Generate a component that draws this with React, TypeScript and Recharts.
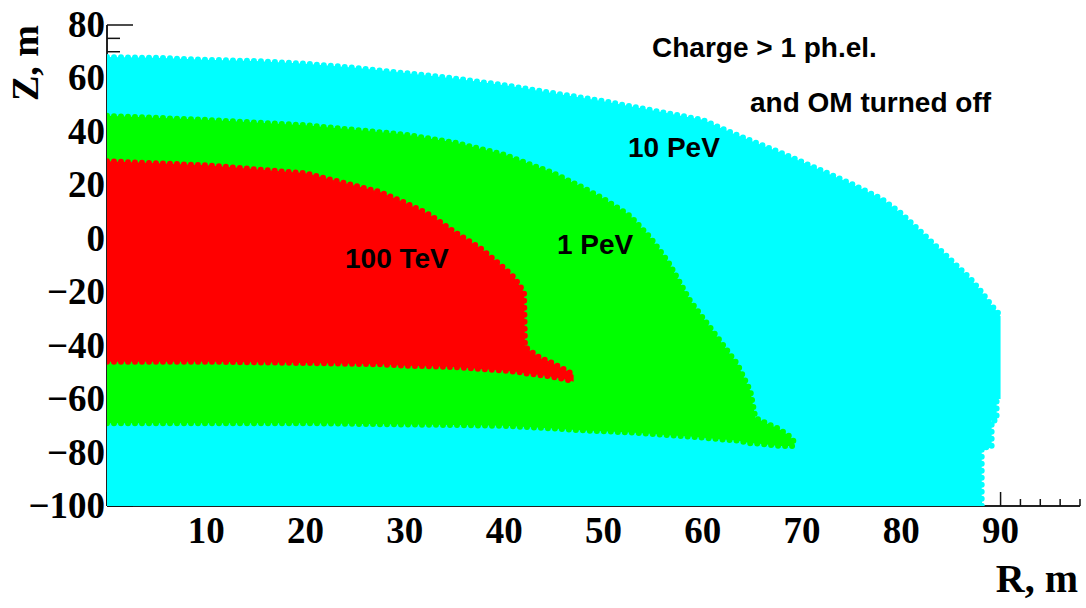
import { ComposedChart, Area, XAxis, YAxis } from 'recharts';

// 10 PeV region (cyan)
const cyanR = [0, 5, 10, 15, 20, 25, 30, 35, 40, 45, 50, 55, 60, 63, 68, 72, 75, 78, 80, 82, 84, 86, 87.1, 88.1, 88.1, 89.1, 89.1, 89.6, 89.6, 90];
const cyanTop = [68, 67.7, 67, 66.5, 65.5, 64, 62, 60, 57.5, 54.5, 51.5, 48, 44.5, 39.5, 32, 25.5, 20.5, 15, 9.5, 2.5, -4.5, -11.5, -15.5, -20, -20, -25, -25, -27, -27, -29];
const cyanBottom = [-100, -100, -100, -100, -100, -100, -100, -100, -100, -100, -100, -100, -100, -100, -100, -100, -100, -100, -100, -100, -100, -100, -100, -100, -78, -78, -68, -68, -60, -60];

// 1 PeV region (green)
const greenR = [0, 10, 20, 30, 35, 40, 45, 48, 50, 52.7, 54.7, 56.5, 58.7, 61.7, 63.5, 64.8, 65.3, 66.4, 67.6, 68.8, 69.2];
const greenTop = [46, 44.5, 42.5, 39, 36, 31.5, 24.5, 19, 15, 8.5, 0.5, -8.5, -23, -38, -47, -57, -67, -69, -71, -74, -76];
const greenBottom = [-69, -69, -69, -69.5, -69.7, -70, -71, -71.7, -72, -72.5, -73, -73.5, -74, -75, -75.5, -76.5, -76.5, -77, -77.5, -77.5, -77.5];

// 100 TeV region (red)
const redR = [0, 10, 20, 27.5, 30, 32.5, 35, 37.6, 40, 41, 42, 42.1, 43.6, 44.6, 45.6, 46.6, 47];
const redTop = [29, 27.5, 24.5, 17.5, 13.5, 9, 2.5, -3.5, -11, -14.5, -20, -40.5, -44.6, -46, -48, -50, -51];
const redBottom = [-46, -46, -46.5, -47, -47.5, -47.7, -48, -48.7, -49.3, -49.7, -50.2, -50.3, -51, -51.5, -52.2, -53, -53.5];

const xLabels = [10, 20, 30, 40, 50, 60, 70, 80, 90];
const yLabels = [80, 60, 40, 20, 0, -20, -40, -60, -80, -100];

const xTicks: number[] = [];
for (let v = 0; v <= 98; v += 2) xTicks.push(v);
const yTicks: number[] = [];
for (let v = -100; v <= 80; v += 5) yTicks.push(v);

const toRows = (r: number[], lo: number[], hi: number[]) =>
  r.map((v, i) => ({ r: v, range: [lo[i], hi[i]] }));

const cyanData = toRows(cyanR, cyanBottom, cyanTop);
const greenData = toRows(greenR, greenBottom, greenTop);
const redData = toRows(redR, redBottom, redTop);

const W = 1086;
const H = 608;
const plotMargin = { top: 25, right: 6, bottom: 102, left: 107 };
const X_DOMAIN: [number, number] = [0, 98];
const Y_DOMAIN: [number, number] = [-100, 80];

const serif = '"Liberation Serif", "Times New Roman", serif';
const sans = '"Liberation Sans", Arial, sans-serif';
const fmt = (v: number) => (v < 0 ? '\u2212' + Math.abs(v) : String(v));
const layer = { position: 'absolute' as const, left: 0, top: 0 };

const XTick = (props: any) => {
  const { x, y, payload } = props;
  const v = payload.value;
  const major = v % 10 === 0;
  return (
    <g>
      <line x1={x} x2={x} y1={y} y2={y - (major ? 14 : 7)} stroke="#111" strokeWidth={1.5} />
      {xLabels.includes(v) && (
        <text x={x} y={y + 37} textAnchor="middle" fontFamily={serif} fontWeight="bold" fontSize={37} fill="#000">
          {fmt(v)}
        </text>
      )}
    </g>
  );
};

const YTick = (props: any) => {
  const { x, y, payload } = props;
  const v = payload.value;
  const major = v % 20 === 0;
  return (
    <g>
      <line x1={x} x2={x + (major ? 26 : 13)} y1={y} y2={y} stroke="#111" strokeWidth={1.5} />
      {yLabels.includes(v) && (
        <text x={x - 2} y={y + 12} textAnchor="end" fontFamily={serif} fontWeight="bold" fontSize={37} fill="#000">
          {fmt(v)}
        </text>
      )}
    </g>
  );
};

// region outline is drawn as a row of round dots to mimic the marker texture
const region = (data: any[], color: string) => (
  <Area
    data={data}
    type="linear"
    dataKey="range"
    fill={color}
    fillOpacity={1}
    stroke={color}
    strokeWidth={6}
    strokeDasharray="0 7"
    strokeLinecap="round"
    dot={false}
    activeDot={false}
    isAnimationActive={false}
  />
);

export default function App() {
  return (
    <div style={{ ...layer, width: W, height: H, background: '#fff' }}>
      {/* frame, ticks and tick labels (under the filled regions) */}
      <div style={layer}>
        <ComposedChart width={W} height={H} margin={{ top: 25, right: 6, bottom: 42, left: 7 }}>
          <XAxis
            dataKey="r"
            type="number"
            domain={X_DOMAIN}
            ticks={xTicks}
            interval={0}
            allowDataOverflow
            height={60}
            tickSize={0}
            tickMargin={0}
            tickLine={false}
            tick={<XTick />}
            axisLine={{ stroke: '#222', strokeWidth: 2 }}
          />
          <XAxis xAxisId="top" orientation="top" type="number" domain={X_DOMAIN} height={0} tick={false} tickLine={false} axisLine={{ stroke: '#222', strokeWidth: 2 }} />
          <YAxis
            type="number"
            domain={Y_DOMAIN}
            ticks={yTicks}
            interval={0}
            allowDataOverflow
            width={100}
            tickSize={0}
            tickMargin={0}
            tickLine={false}
            tick={<YTick />}
            axisLine={{ stroke: '#222', strokeWidth: 2 }}
          />
          <YAxis yAxisId="right" orientation="right" type="number" domain={Y_DOMAIN} width={0} tick={false} tickLine={false} axisLine={{ stroke: '#222', strokeWidth: 2 }} />
        </ComposedChart>
      </div>
      {/* filled regions */}
      <div style={layer}>
        <ComposedChart width={W} height={H} margin={plotMargin}>
          <XAxis dataKey="r" type="number" domain={X_DOMAIN} allowDataOverflow hide />
          <YAxis type="number" domain={Y_DOMAIN} allowDataOverflow hide />
          {region(cyanData, '#00ffff')}
          {region(greenData, '#00ff00')}
          {region(redData, '#ff0000')}
        </ComposedChart>
      </div>
      <svg width={W} height={H} style={{ ...layer, pointerEvents: 'none' }}>
        <text x={38} y={25} transform="rotate(-90 38 25)" textAnchor="end" fontFamily={serif} fontWeight="bold" fontSize={38} fill="#000">
          Z, m
        </text>
        <text x={1078} y={592} textAnchor="end" fontFamily={serif} fontWeight="bold" fontSize={40} fill="#000">
          R, m
        </text>
        <g fontFamily={sans} fontWeight="bold" fontSize={28} fill="#000">
          <text x={652} y={57}>Charge &gt; 1 ph.el.</text>
          <text x={750} y={112}>and OM turned off</text>
          <text x={628} y={157}>10 PeV</text>
          <text x={557} y={254}>1 PeV</text>
          <text x={345} y={268}>100 TeV</text>
        </g>
      </svg>
    </div>
  );
}
